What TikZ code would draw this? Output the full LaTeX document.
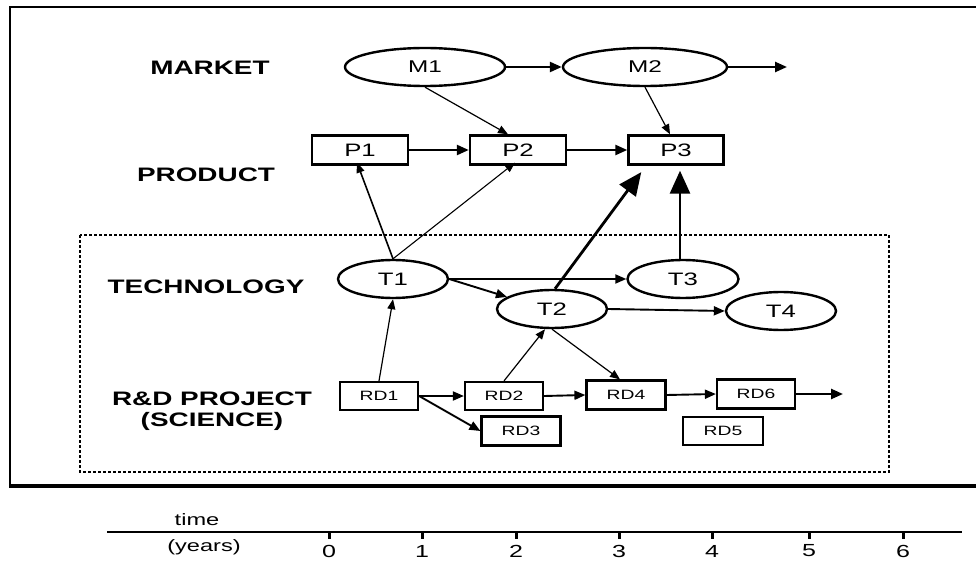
\documentclass[tikz,border=0pt]{standalone}
\usepackage{fontspec}
\setmainfont{Liberation Sans}[FakeStretch=1.43]
\usetikzlibrary{shapes.geometric,arrows.meta,calc}
\begin{document}
\begin{tikzpicture}[x=1pt,y=-1pt,
  rowlabel/.style={font=\fontsize{19.5}{21}\selectfont\bfseries,align=center,inner sep=0},
  ell/.style={draw,ellipse,line width=2.4pt,minimum width=110pt,minimum height=38pt,inner sep=0,font=\fontsize{18}{18}\selectfont},
  pbox/.style={draw,rectangle,line width=2.4pt,minimum width=96pt,minimum height=29pt,inner sep=0,font=\fontsize{18}{18}\selectfont},
  rdbox/.style={draw,rectangle,line width=2.2pt,minimum width=78pt,minimum height=28pt,inner sep=0,font=\fontsize{13.5}{14}\selectfont},
  thick arr/.style={line width=2.4pt,-{Triangle[length=12pt,width=10pt]}},
  med arr/.style={line width=1.9pt,-{Triangle[length=11pt,width=9pt]}},
  thin arr/.style={line width=1.2pt,-{Triangle[length=10pt,width=8pt]}},
  big arr/.style={line width=2.8pt,-{Triangle[length=23pt,width=20pt]}},
  axislbl/.style={font=\fontsize{16.5}{17}\selectfont,inner sep=0},
  digit/.style={font=\fontsize{17.5}{18}\selectfont,inner sep=0}
]
\useasboundingbox (0,0) rectangle (976,561);
% outer frame
\draw[line width=2pt] (976,7) -- (10,7) -- (10,486);
\draw[line width=3.5pt] (9,486) -- (976,486);
% dashed technology/science box
\draw[line width=1.1pt,dash pattern=on 3pt off 2pt] (80,235) rectangle (889,472);

% row labels
\node[rowlabel] (mkt) at (210,68) {MARKET};
\node[rowlabel] (prd) at (206,175) {PRODUCT};
\node[rowlabel] (tech) at (206,287) {TECHNOLOGY};
\node[rowlabel] (rdl) at (212,411) {R\&D PROJECT\\(SCIENCE)};

% market
\node[ell,minimum width=160pt,font=\fontsize{17}{17}\selectfont] (M1) at (425,67) {M1};
\node[ell,minimum width=164pt,font=\fontsize{17}{17}\selectfont] (M2) at (645,67) {M2};
\coordinate (Mend) at (787,67);

% products
\node[pbox] (P1) at (360,150) {P1};
\node[pbox] (P2) at (518,150) {P2};
\node[pbox,minimum width=95pt] (P3) at (676,150) {P3};

% technologies
\node[ell] (T1) at (393,279) {T1};
\node[ell] (T2) at (552,309) {T2};
\node[ell,minimum width=111pt] (T3) at (683,279) {T3};
\node[ell] (T4) at (781,311) {T4};

% R&D projects
\node[rdbox] (RD1) at (379,396) {RD1};
\node[rdbox] (RD2) at (504,396) {RD2};
\node[rdbox,minimum width=79pt,minimum height=29pt] (RD3) at (521,431) {RD3};
\node[rdbox,minimum width=79pt,minimum height=29pt] (RD4) at (626,395) {RD4};
\node[rdbox,minimum height=29pt] (RD6) at (756,394) {RD6};
\node[rdbox,minimum width=80pt] (RD5) at (723,431) {RD5};
\coordinate (RDend) at (843,394);

% connectors: market
\draw[thick arr] (M1.east) -- (M2.west);
\draw[thick arr] (M2.east) -- (Mend);
\draw[thin arr] (M1.south) -- ([xshift=-10pt]P2.north);
\draw[thin arr] (M2.south) -- ([xshift=-6pt]P3.north);
% products
\draw[thick arr] (P1.east) -- (P2.west);
\draw[thick arr] (P2.east) -- (P3.west);
% technology to product
\draw[thin arr,line width=1.6pt] (T1.north) -- ([xshift=-3pt,yshift=3pt]P1.south);
\draw[thin arr,line width=1.1pt] (T1.north) -- ([xshift=-3pt,yshift=3pt]P2.south);
\draw[big arr,shorten >=8pt] ([xshift=3pt]T2.north) -- ([xshift=-30pt]P3.south);
\draw[big arr,shorten >=5pt] ([xshift=-3pt]T3.north) -- ([xshift=-3pt]T3.north |- P3.south);
% technology
\draw[med arr] (T1.east) -- (T3.west);
\draw[med arr] (T1.east) -- (T2.165);
\draw[med arr] (T2.east) -- (T4.west);
% science
\draw[thin arr] (RD1.north) -- (T1.south);
\draw[thin arr] (RD2.north) -- ([xshift=-7pt]T2.south);
\draw[thin arr] (T2.south) -- ([xshift=-6pt]RD4.north);
\draw[med arr] (RD1.east) -- (RD2.west);
\draw[med arr] (RD1.east) -- (RD3.west);
\draw[med arr] (RD2.east) -- (RD4.west);
\draw[med arr] (RD4.east) -- (RD6.west);
\draw[thick arr] (RD6.east) -- (RDend);

% time axis
\coordinate (ax0) at (107,532);
\coordinate (ax1) at (962,532);
\draw[line width=2.4pt] (ax0) -- (ax1);
\node[axislbl] (time) at (197,520) {time};
\node[axislbl] (years) at (204,547) {(years)};
\foreach \x/\d in {329/0,422/1,516/2,619/3,712/4,809/5,903/6}{
  \draw[line width=3pt] (\x,532) -- (\x,539);
  \node[digit] (tick\d) at (\x,551) {\d};
}
\end{tikzpicture}
\end{document}
